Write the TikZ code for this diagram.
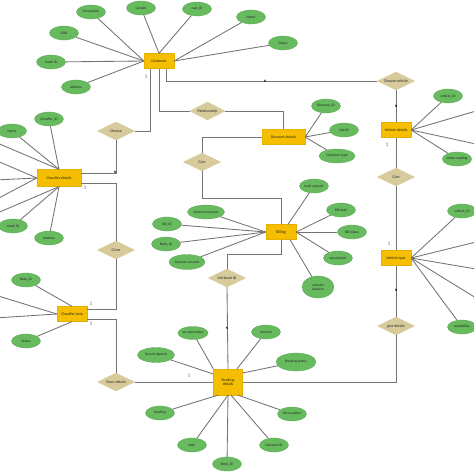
\documentclass[tikz,border=0pt]{standalone}
\usepackage{fontspec}
\setmainfont{Carlito}
\usetikzlibrary{shapes.geometric}
\definecolor{entfill}{HTML}{F5BE00}
\definecolor{entdraw}{HTML}{E8B000}
\definecolor{relfill}{HTML}{D7CA9B}
\definecolor{attfill}{HTML}{67BB5E}
\definecolor{attdraw}{HTML}{58A650}
\definecolor{linegray}{HTML}{737373}
\definecolor{txt}{HTML}{222222}
\tikzset{
  ent/.style={rectangle, fill=entfill, draw=entdraw, line width=0.3pt, minimum width=30pt, minimum height=15pt, inner sep=0pt, text=txt, font=\fontsize{3.9}{4.5}\selectfont, align=center},
  rel/.style={diamond, aspect=2, fill=relfill, draw=relfill, minimum width=37pt, minimum height=18pt, inner sep=0pt, text=txt, font=\fontsize{3.9}{4.5}\selectfont},
  att/.style={ellipse, fill=attfill, draw=attdraw, line width=0.3pt, minimum width=29pt, minimum height=14pt, inner sep=0pt, text=txt, font=\fontsize{3.6}{4.2}\selectfont, align=center},
  conn/.style={draw=linegray, line width=0.85pt},
  one/.style={text=linegray, font=\fontsize{5.5}{5.5}\selectfont, inner sep=0pt},
  many/.style={text=black, font=\fontsize{3.6}{3.6}\selectfont\bfseries, inner sep=0pt}
}
\begin{document}
\begin{tikzpicture}[x=1pt,y=-1pt]
\useasboundingbox (0,0) rectangle (474,474);
\clip (0,0) rectangle (474,474);
\fill[white] (0,0) rectangle (474,474);

% entities
\node[ent] (cust) at (159,61) {Customer};
\node[ent, minimum width=43pt] (disc) at (283.5,137) {Discount details};
\node[ent] (vdet) at (396,130) {Vehicle details};
\node[ent, minimum width=44pt, minimum height=17pt] (chd) at (59,178) {Chauffer details};
\node[ent] (bill) at (281,232) {Billing};
\node[ent] (vtype) at (396,258) {Vehicle type};
\node[ent] (bata) at (72,314) {Chauffer bata};
\node[ent, minimum width=29pt, minimum height=26pt] (book) at (228,382) {Booking\\details};

% relationships
\node[rel] (choose) at (116,131) {Choose};
\node[rel, minimum width=35pt] (relship) at (207.5,111) {Relationship};
\node[rel] (choosev) at (396,81) {Choose vehicle};
\node[rel] (give1) at (202,162) {Give};
\node[rel] (give2) at (396,177) {Give};
\node[rel] (gives) at (116,250) {Gives};
\node[rel] (getb) at (227,278) {Get book ID};
\node[rel] (givesd) at (116,382) {Gives details};
\node[rel] (gived) at (396,326) {give details};

% junction coordinates
\coordinate (j1) at (202,198);
\coordinate (j2) at (281,254);

% relationship connectors
\draw[conn] ([xshift=-9pt]cust.south) |- (choose.east);
\draw[conn] ([xshift=7pt]cust.south) |- (choosev.west);
\draw[conn] (cust.south) |- (relship.west);
\draw[conn] (relship.east) -| (disc.north);
\draw[conn] (choose.south) |- ([yshift=5pt]chd.east);
\draw[conn] ([yshift=-5pt]chd.east) -| (gives.north);
\draw[conn] (gives.south) |- ([yshift=5pt]bata.east);
\draw[conn] ([yshift=-5pt]bata.east) -| (givesd.north);
\draw[conn] (givesd.east) -- (book.west);
\draw[conn] (book.east) -| (gived.south);
\draw[conn] (gived.north) -- (vtype.south);
\draw[conn] (vtype.north) -- (give2.south);
\draw[conn] (give2.north) -- (vdet.south);
\draw[conn] (vdet.north) -- (choosev.south);
\draw[conn] (disc.west) -| (give1.north);
\draw[conn] (give1.south) -- (j1) -| (bill.north);
\draw[conn] (bill.south) -- (j2) -| (getb.north);
\draw[conn] (getb.south) -- (book.north);

% cardinality labels
\node[one] (l1) at (146,77) {1};
\node[many] (n1) at (265,81) {N};
\node[many] (n2) at (115,172) {N};
\node[one] (l2) at (85,188) {1};
\node[one] (l3) at (91,304) {1};
\node[one] (l4) at (91,324) {1};
\node[one] (l5) at (189,376) {1};
\node[many] (n3) at (227,328) {N};
\node[many] (n4) at (396,290) {N};
\node[one] (l6) at (389,244) {1};
\node[one] (l7) at (387,145) {1};
\node[many] (n5) at (396,106) {N};

% Customer attributes
\node[att] (cocc) at (91,12) {Occupation};
\node[att] (cgen) at (141,8) {Gender};
\node[att] (cid) at (197,9) {cust\_ID};
\node[att] (cnm) at (251,17) {Name};
\node[att] (cst) at (283,43) {Status};
\node[att] (cdob) at (64,33) {DOB};
\node[att] (cem) at (51,62) {email ID};
\node[att] (cad) at (76,87) {Address};
\draw[conn] (cocc) -- (cust.west);
\draw[conn] (cdob) -- (cust.west);
\draw[conn] (cem) -- (cust.west);
\draw[conn] (cad) -- (cust.west);
\draw[conn] (cgen) -- (cust.north);
\draw[conn] (cid) -- (cust.north);
\draw[conn] (cnm) -- (cust.east);
\draw[conn] (cst) -- (cust.east);

% Chauffer details attributes
\node[att] (hid) at (49,119) {Chauffer\_ID};
\node[att] (hnm) at (12,131) {Name};
\node[att] (hem) at (13,226) {email ID};
\node[att] (had) at (49,238) {Address};
\coordinate (ho1) at (-5,142);
\coordinate (ho2) at (-5,160);
\coordinate (ho3) at (-5,180);
\coordinate (ho4) at (-5,200);
\coordinate (ho5) at (-5,214);
\draw[conn] (hid) -- (chd.north);
\draw[conn] (hnm) -- (chd.north);
\draw[conn] (ho1) -- (chd.north);
\draw[conn] (ho2) -- (chd.west);
\draw[conn] (ho3) -- (chd.west);
\draw[conn] (ho4) -- (chd.west);
\draw[conn] (ho5) -- (chd.south);
\draw[conn] (hem) -- (chd.south);
\draw[conn] (had) -- (chd.south);

% Discount details attributes
\node[att] (did) at (326,106) {Discount\_ID};
\node[att] (dget) at (344,130) {Get ID};
\node[att, minimum width=36pt] (dct) at (337,156) {Customer type};
\draw[conn] (did) -- (disc.east);
\draw[conn] (dget) -- (disc.east);
\draw[conn] (dct) -- (disc.east);

% Vehicle details attributes
\node[att] (vid) at (448,96) {vehicle\_ID};
\node[att] (vmr) at (457,159) {meter reading};
\coordinate (vo1) at (476,111);
\coordinate (vo2) at (476,144);
\draw[conn] (vid) -- (vdet.east);
\draw[conn] (vo1) -- (vdet.east);
\draw[conn] (vo2) -- (vdet.east);
\draw[conn] (vmr) -- (vdet.east);

% Vehicle type attributes
\node[att] (tid) at (462,211) {vehicle\_ID};
\node[att] (tav) at (462,327) {availability};
\coordinate (to1) at (476,242);
\coordinate (to2) at (476,269);
\coordinate (to3) at (476,298);
\draw[conn] (tid) -- (vtype.east);
\draw[conn] (to1) -- (vtype.east);
\draw[conn] (to2) -- (vtype.east);
\draw[conn] (to3) -- (vtype.east);
\draw[conn] (tav) -- (vtype.east);

% Billing attributes
\node[att, minimum width=37pt] (bda) at (206,212) {discount amount};
\node[att] (bid) at (167,224) {Bill\_ID};
\node[att] (bbk) at (166,244) {Book\_ID};
\node[att, minimum width=36pt, minimum height=15pt] (badv) at (187,262) {Advance amount};
\node[att] (btot) at (314,186) {total amount};
\node[att] (bdate) at (341,210) {Bill date};
\node[att] (bst) at (352,232) {Bill status};
\node[att] (btax) at (338,258) {tax amount};
\node[att, minimum width=32pt, minimum height=22pt] (bbal) at (318,287) {amount\\balance};
\draw[conn] (bda) -- (bill.west);
\draw[conn] (bid) -- (bill.west);
\draw[conn] (bbk) -- (bill.west);
\draw[conn] (badv) -- (bill.west);
\draw[conn] (btot) -- ([xshift=7pt]bill.north);
\draw[conn] (bdate) -- (bill.east);
\draw[conn] (bst) -- (bill.east);
\draw[conn] (btax) -- (bill.east);
\draw[conn] (bbal) -- ([xshift=9pt]bill.south);

% Chauffer bata attributes
\node[att] (tbid) at (26,280) {Bata\_ID};
\node[att] (tbst) at (26,341) {Status};
\coordinate (bo1) at (-5,295);
\coordinate (bo2) at (-5,318);
\draw[conn] (tbid) -- (bata.north);
\draw[conn] (bo1) -- (bata.west);
\draw[conn] (bo2) -- (bata.west);
\draw[conn] (tbst) -- (bata.south);

% Booking details attributes
\node[att, minimum width=30pt, minimum height=13pt] (ksec) at (193,333) {sec pwd status};
\node[att] (kam) at (266,332) {amount};
\node[att, minimum width=37pt, minimum height=15pt] (kdep) at (156,355) {Securit deposit};
\node[att, minimum width=40pt, minimum height=18pt] (kbst) at (296,362) {Booking status};
\node[att] (krd) at (160,413) {Reading};
\node[att] (kdo) at (292,414) {Drive option};
\node[att] (kdt) at (192,445) {date};
\node[att] (kdid) at (274,445) {Discount ID};
\node[att] (kbid) at (227,464) {Book\_ID};
\draw[conn] (ksec) -- (book.north west);
\draw[conn] (kam) -- ([xshift=9pt]book.north);
\draw[conn] (kdep) -- ([yshift=8pt]book.west);
\draw[conn] (kbst) -- ([yshift=9pt]book.east);
\draw[conn] (krd) -- ([xshift=-10pt]book.south);
\draw[conn] (kdt) -- (book.south);
\draw[conn] (kbid) -- (book.south);
\draw[conn] (kdid) -- ([xshift=3pt]book.south);
\draw[conn] (kdo) -- ([xshift=10pt]book.south);
\end{tikzpicture}
\end{document}
